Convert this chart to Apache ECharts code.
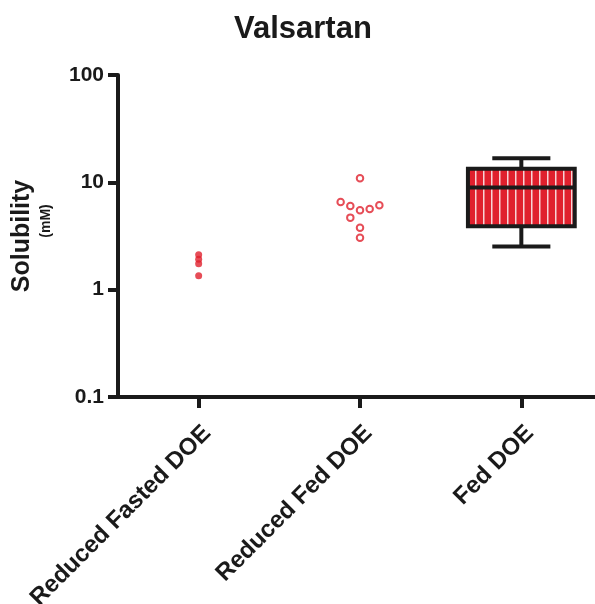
<!DOCTYPE html>
<html>
<head>
<meta charset="utf-8">
<script src="https://cdn.jsdelivr.net/npm/echarts@6/dist/echarts.min.js"></script>
<style>
html, body { margin: 0; padding: 0; background: #fff; }
#chart { width: 595px; height: 604px; }
</style>
</head>
<body>
<div id="chart"></div>
<script>
var categories = ['Reduced Fasted DOE', 'Reduced Fed DOE', 'Fed DOE']
var yTickLabels = ['0.1', '1', '10', '100']
var reducedFasted = [2.12, 1.92, 1.74, 1.35]
var reducedFed = [10.9, 6.57, 6.03, 5.5, 5.65, 6.12, 4.69, 3.78, 3.05]
// column scatter spread, in symbol widths
var reducedFedSpread = [0, -2, -1, 0, 1, 2, -1, 0, 0]
// Fed DOE box: min, Q1, median, Q3, max
var fedBox = [2.52, 3.9, 8.93, 13.4, 16.8]

var red = '#e0202d'
var ink = '#1a1a1a'
var font = 'Liberation Sans'

function stripePattern() {
  var c = document.createElement('canvas')
  c.width = 8
  c.height = 4
  var ctx = c.getContext('2d')
  ctx.fillStyle = red
  ctx.fillRect(0, 0, 8, 4)
  ctx.fillStyle = '#f7d3d6'
  ctx.fillRect(3, 0, 1.5, 4)
  return c
}
var pattern = stripePattern()

function renderBox(params, api) {
  var x = api.value(0)
  var lo = api.coord([x, api.value(1)])
  var q1 = api.coord([x, api.value(2)])
  var med = api.coord([x, api.value(3)])
  var q3 = api.coord([x, api.value(4)])
  var hi = api.coord([x, api.value(5)])
  var band = api.size([1, 0])[0]
  var half = band * 0.331
  var cap = band * 0.18
  var cx = lo[0]
  var ls = { stroke: ink, lineWidth: 4 }
  return {
    type: 'group',
    children: [
      { type: 'line', shape: { x1: cx, y1: hi[1], x2: cx, y2: lo[1] }, style: ls },
      { type: 'line', shape: { x1: cx - cap, y1: hi[1], x2: cx + cap, y2: hi[1] }, style: ls },
      { type: 'line', shape: { x1: cx - cap, y1: lo[1], x2: cx + cap, y2: lo[1] }, style: ls },
      {
        type: 'rect',
        shape: { x: cx - half, y: q3[1], width: half * 2, height: q1[1] - q3[1] },
        style: { fill: { image: pattern, repeat: 'repeat' }, stroke: ink, lineWidth: 4 }
      },
      { type: 'line', shape: { x1: cx - half, y1: med[1], x2: cx + half, y2: med[1] }, style: ls }
    ]
  }
}

var chart = echarts.init(document.getElementById('chart'))
chart.setOption({
  animation: false,
  backgroundColor: '#fff',
  title: {
    text: 'Valsartan',
    left: 229,
    top: 9,
    textStyle: { fontFamily: font, fontSize: 31, fontWeight: 'bold', color: ink }
  },
  grid: { left: 118, right: -7, top: 75, bottom: 207, outerBoundsMode: 'none' },
  xAxis: [
    {
      type: 'category',
      data: categories,
      axisLine: { show: true, onZero: false, lineStyle: { color: ink, width: 4 } },
      axisTick: { show: true, alignWithLabel: true, length: 11, lineStyle: { color: ink, width: 4 } },
      axisLabel: {
        interval: 0,
        rotate: 45,
        margin: 24,
        verticalAlign: 'top',
        fontFamily: font,
        fontSize: 24,
        fontWeight: 'bold',
        color: ink
      },
      splitLine: { show: false }
    },
    { type: 'value', min: -0.5, max: 2.5, show: false }
  ],
  yAxis: {
    type: 'log',
    logBase: 10,
    min: 0.1,
    max: 100,
    axisLine: { show: true, onZero: false, lineStyle: { color: ink, width: 4 } },
    axisTick: { show: true, length: 10, lineStyle: { color: ink, width: 4 } },
    axisLabel: {
      margin: 14,
      fontFamily: font,
      fontSize: 21,
      fontWeight: 'bold',
      color: ink,
      formatter: function (v) {
        var i = Math.round(Math.log10(v)) + 1
        return yTickLabels[i]
      }
    },
    splitLine: { show: false },
    name: '{a|Solubility}\n{b|(mM)}',
    nameLocation: 'middle',
    nameRotate: 90,
    nameGap: 63,
    nameTextStyle: {
      rich: {
        a: { fontFamily: font, fontSize: 25, fontWeight: 'bold', color: ink, lineHeight: 29 },
        b: { fontFamily: font, fontSize: 14, fontWeight: 'bold', color: ink, lineHeight: 18, padding: [0, 0, 0, 30] }
      }
    }
  },
  series: [
    {
      type: 'scatter',
      xAxisIndex: 1,
      symbol: 'circle',
      symbolSize: 7,
      itemStyle: { color: red },
      data: reducedFasted.map(function (v) { return [0, v] })
    },
    {
      type: 'scatter',
      xAxisIndex: 1,
      symbol: 'circle',
      symbolSize: 6.5,
      itemStyle: { color: '#fff', borderColor: red, borderWidth: 2 },
      data: reducedFed.map(function (v, i) { return [1 + reducedFedSpread[i] * 0.06, v] })
    },
    {
      type: 'custom',
      xAxisIndex: 0,
      renderItem: renderBox,
      encode: { x: 0, y: [1, 2, 3, 4, 5] },
      data: [[2].concat(fedBox)]
    }
  ]
})
</script>
</body>
</html>
